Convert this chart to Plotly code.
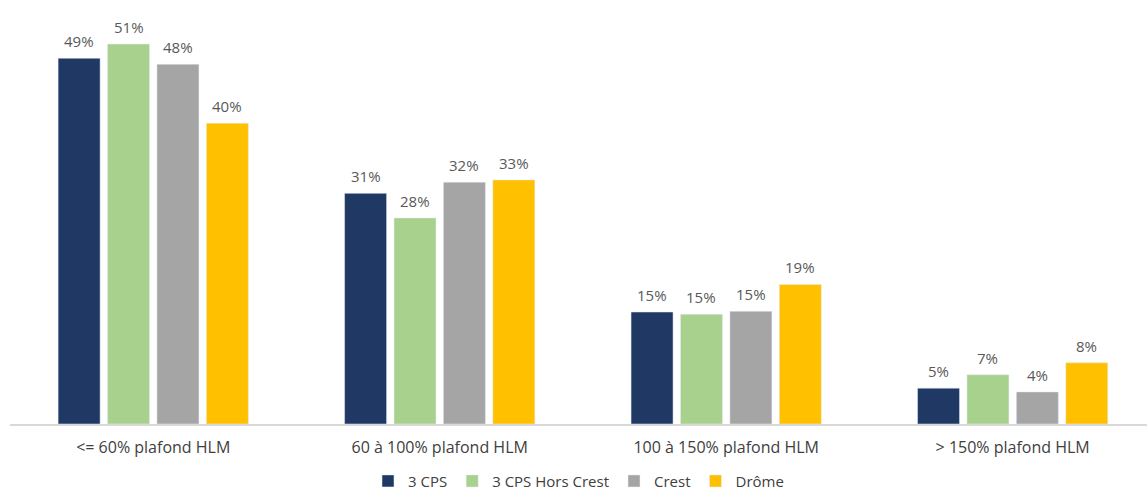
import plotly.graph_objects as go

categories = ["<= 60% plafond HLM", "60 à 100% plafond HLM", "100 à 150% plafond HLM", "> 150% plafond HLM"]
series_names = ["3 CPS", "3 CPS Hors Crest", "Crest", "Drôme"]
cps = [49.0, 30.9, 15.0, 4.8]
cps_hors_crest = [50.9, 27.6, 14.7, 6.6]
crest = [48.2, 32.4, 15.1, 4.3]
drome = [40.3, 32.7, 18.7, 8.2]
colors = ["#1f3864", "#a9d18e", "#a5a5a5", "#ffc000"]

BARGAP = 0.31
all_series = [cps, cps_hors_crest, crest, drome]
n = len(all_series)

fig = go.Figure()
for name, vals, col in zip(series_names, all_series, colors):
    fig.add_trace(go.Bar(x=categories, y=vals, name=name, marker_color=col))

slot = (1 - BARGAP) / n
annotations = []
for i, vals in enumerate(all_series):
    for j, v in enumerate(vals):
        annotations.append(dict(
            x=j + (i - (n - 1) / 2) * slot, y=v, xref="x", yref="y",
            text=f"{v:.0f}%", showarrow=False, yanchor="bottom", yshift=5,
            font=dict(size=15, color="#595959"),
        ))

fig.update_layout(
    width=1147, height=492,
    margin=dict(l=10, r=0, t=6, b=68, autoexpand=False),
    paper_bgcolor="white", plot_bgcolor="white",
    barmode="group", bargap=BARGAP, bargroupgap=0.15,
    font=dict(family="Open Sans, Liberation Sans, sans-serif", color="#404040"),
    legend=dict(orientation="h", x=0.5, xanchor="center", yref="container", y=0.022,
                yanchor="middle", font=dict(size=15, color="#404040"), itemwidth=30,
                traceorder="normal"),
    showlegend=True,
    annotations=annotations,
)
fig.update_xaxes(range=[-0.5, 3.469], showline=True, linecolor="#d9d9d9", linewidth=1.5,
                 ticks="", ticklabelstandoff=8, automargin=False,
                 tickfont=dict(size=16, color="#404040"), showgrid=False)
fig.update_yaxes(range=[0, 56], visible=False, showgrid=False, zeroline=False, automargin=False)

fig.write_html("out.html", config={"displayModeBar": False},
               post_script="document.body.style.margin='0';document.body.style.overflow='hidden';")
